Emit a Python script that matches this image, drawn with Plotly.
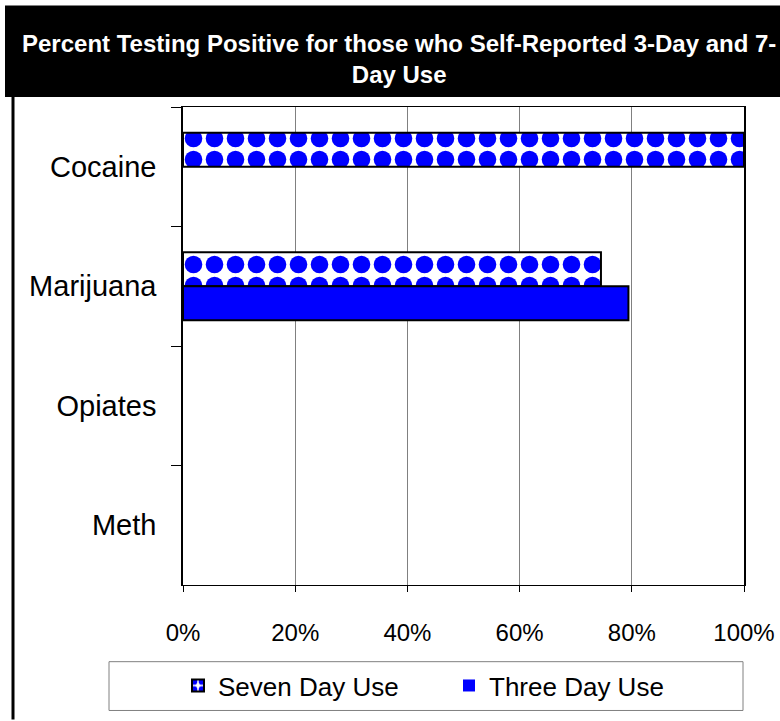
import plotly.graph_objects as go

# ---- data ----
categories = ["Cocaine", "Marijuana", "Opiates", "Meth"]
seven_day = [100.0, 74.5, 0.0, 0.0]
three_day = [0.0, 79.4, 0.0, 0.0]
x_ticks = [0, 20, 40, 60, 80, 100]
x_tick_labels = ["0%", "20%", "40%", "60%", "80%", "100%"]
title_text = "Percent Testing Positive for those who Self-Reported 3-Day and 7-<br>Day Use"

FONT = "Liberation Sans, Arial, sans-serif"

# plot-area geometry (pixels) used only to place decorations
W, H = 780, 721
L, R, T, B = 183, 36, 107, 134
PW = W - L - R
PH = H - T - B


def px(x):
    return (x - L) / PW


def py(y):
    return (H - B - y) / PH


def outline(vals):
    return [2 if v > 0 else 0 for v in vals]


fig = go.Figure()
fig.add_trace(go.Bar(
    name="Seven Day Use",
    y=categories, x=seven_day, orientation="h",
    marker=dict(color="white",
                line=dict(color="black", width=outline(seven_day)),
                pattern=dict(shape=".", fgcolor="#0000FF", bgcolor="white",
                             fgopacity=1, size=21, solidity=0.55)),
))
fig.add_trace(go.Bar(
    name="Three Day Use",
    y=categories, x=three_day, orientation="h",
    marker=dict(color="#0000FF", line=dict(color="black", width=outline(three_day))),
))

fig.update_layout(
    width=W, height=H, autosize=False,
    margin=dict(l=L, r=R, t=T, b=B, pad=0),
    paper_bgcolor="white", plot_bgcolor="white",
    font=dict(family=FONT, color="black", size=24),
    barmode="group", bargap=0.433, bargroupgap=0,
    showlegend=True,
    legend=dict(orientation="h", x=px(178), xanchor="left",
                y=py(688), yanchor="middle",
                font=dict(family=FONT, size=26, color="black"),
                bgcolor="rgba(0,0,0,0)", borderwidth=0,
                entrywidth=226, entrywidthmode="pixels",
                traceorder="normal"),
    xaxis=dict(range=[0, 100], tickvals=x_ticks, ticktext=x_tick_labels,
               showgrid=True, gridcolor="#808080", gridwidth=1,
               showline=True, linecolor="black", linewidth=1, mirror=True,
               ticks="outside", ticklen=6, tickcolor="black",
               tickfont=dict(size=24), zeroline=False, automargin=False,
               ticklabelstandoff=20, fixedrange=True),
    yaxis=dict(categoryorder="array", categoryarray=categories,
               autorange="reversed", automargin=False,
               showline=True, linecolor="black", linewidth=1.5, mirror=True,
               ticks="outside", ticklen=10, tickcolor="black",
               tickson="boundaries", showgrid=False,
               tickfont=dict(size=29), ticklabelstandoff=19,
               fixedrange=True),
)

# black title band
fig.add_shape(type="rect", xref="paper", yref="paper",
              x0=px(5), x1=px(781), y0=py(97), y1=py(5),
              fillcolor="black", line=dict(width=0), layer="above")
# left border line
fig.add_shape(type="line", xref="paper", yref="paper",
              x0=px(13), x1=px(13), y0=py(97), y1=py(722),
              line=dict(color="black", width=3))
# legend frame
fig.add_shape(type="rect", xref="paper", yref="paper",
              x0=px(109), x1=px(743), y0=py(713), y1=py(664),
              fillcolor="rgba(0,0,0,0)", line=dict(color="#808080", width=1))

fig.add_annotation(text=title_text, xref="paper", yref="paper",
                   x=px(399), y=py(59), xanchor="center", yanchor="middle",
                   showarrow=False, align="center",
                   font=dict(family=FONT, size=24, color="white", weight="bold"))

fig.write_html("out.html",
               config={"displayModeBar": False},
               post_script="document.body.style.margin='0';document.body.style.padding='0';")
